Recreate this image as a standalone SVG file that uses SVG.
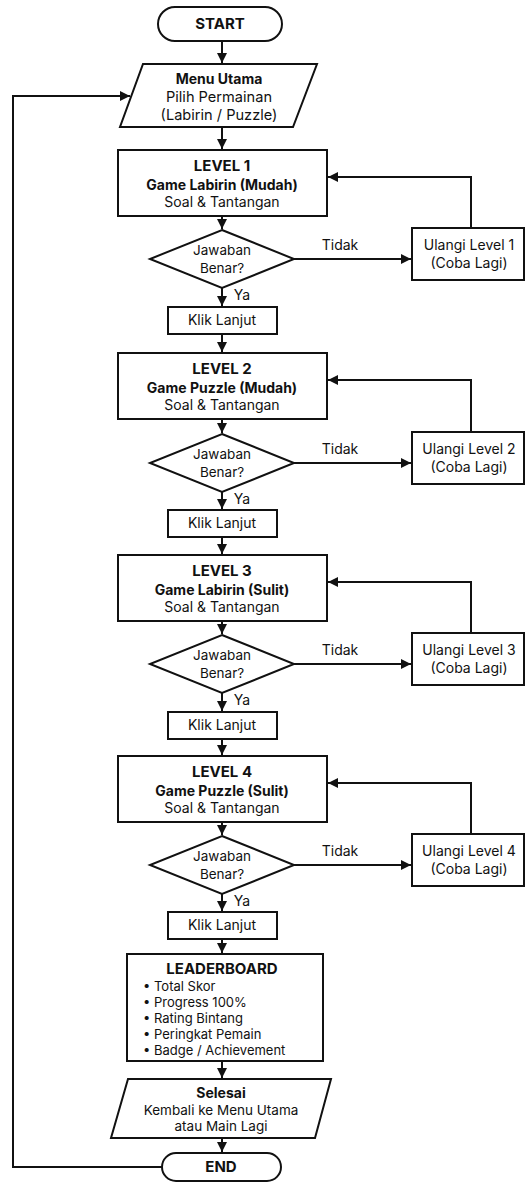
<svg xmlns="http://www.w3.org/2000/svg" width="526" height="1182" viewBox="0 0 526 1182">
<defs>
<marker id="ah" markerUnits="userSpaceOnUse" markerWidth="12" markerHeight="12" refX="10" refY="5" orient="auto">
<path d="M0,0 L10,5 L0,10 Z" fill="#111"/>
</marker>
<style>
.s{fill:#fff;stroke:#111;stroke-width:2}
.c{fill:none;stroke:#111;stroke-width:2;marker-end:url(#ah)}
.t{font-family:Inter,"Noto Sans",sans-serif;font-size:14px;fill:#111;text-anchor:middle}
.b{font-weight:bold}
.h{font-weight:bold;font-size:15px}
.d{font-size:13.5px}
.l{font-family:Inter,"Noto Sans",sans-serif;font-size:13px;fill:#111}
</style>
</defs>
<rect width="526" height="1182" fill="#fff"/>
<g id="connectors">
<path class="c" d="M222,41 V63"/>
<path class="c" d="M222,127 V149"/>
<path class="c" d="M222,216 V229"/>
<path class="c" d="M222,288 V306"/>
<path class="c" d="M222,334 V352"/>
<path class="c" d="M294,259 H411"/>
<path class="c" d="M471,228 V177 H328"/>
<path class="c" d="M222,419 V433"/>
<path class="c" d="M222,492 V509"/>
<path class="c" d="M222,537 V554"/>
<path class="c" d="M294,463 H411"/>
<path class="c" d="M471,432 V380 H328"/>
<path class="c" d="M222,621 V634"/>
<path class="c" d="M222,693 V711"/>
<path class="c" d="M222,739 V755"/>
<path class="c" d="M294,664 H411"/>
<path class="c" d="M471,633 V582 H328"/>
<path class="c" d="M222,822 V835"/>
<path class="c" d="M222,894 V911"/>
<path class="c" d="M222,939 V953"/>
<path class="c" d="M294,865 H411"/>
<path class="c" d="M471,834 V783 H328"/>
<path class="c" d="M222,1061 V1078"/>
<path class="c" d="M222,1138 V1152"/>
<path class="c" d="M162,1167 H13 V96 H130"/>
<text class="t" x="340" y="250">Tidak</text>
<text class="t" x="340" y="454">Tidak</text>
<text class="t" x="340" y="655">Tidak</text>
<text class="t" x="340" y="856">Tidak</text>
<text class="t" x="242" y="300">Ya</text>
<text class="t" x="242" y="504">Ya</text>
<text class="t" x="242" y="705">Ya</text>
<text class="t" x="242" y="906">Ya</text>
</g>
<g id="start">
<rect class="s" x="158" y="7" width="124" height="34" rx="17"/>
<text class="t h" x="220" y="29">START</text>
</g>
<g id="menu">
<polygon class="s" points="143,64 317,64 293,127 120,127"/>
<text class="t b" x="219" y="84">Menu Utama</text>
<text class="t" x="219" y="102" style="font-size:14.6px">Pilih Permainan</text>
<text class="t" x="219" y="120" style="font-size:14.6px">(Labirin / Puzzle)</text>
</g>
<g id="level1">
<rect class="s" x="118" y="150" width="209" height="66"/>
<text class="t h" x="222" y="171">LEVEL 1</text>
<text class="t b" x="222" y="190">Game Labirin (Mudah)</text>
<text class="t" x="222" y="207">Soal &amp; Tantangan</text>
</g>
<g id="dec1">
<polygon class="s" points="222,230 294,259 222,288 150,259"/>
<text class="t d" x="222" y="255">Jawaban</text>
<text class="t d" x="222" y="273">Benar?</text>
</g>
<g id="retry1">
<rect class="s" x="412" y="228" width="112" height="52"/>
<text class="t" x="469" y="250">Ulangi Level 1</text>
<text class="t" x="469" y="268">(Coba Lagi)</text>
</g>
<g id="next1">
<rect class="s" x="168" y="307" width="109" height="27"/>
<text class="t" x="222" y="325">Klik Lanjut</text>
</g>
<g id="level2">
<rect class="s" x="118" y="353" width="209" height="66"/>
<text class="t h" x="222" y="374">LEVEL 2</text>
<text class="t b" x="222" y="393">Game Puzzle (Mudah)</text>
<text class="t" x="222" y="410">Soal &amp; Tantangan</text>
</g>
<g id="dec2">
<polygon class="s" points="222,434 294,463 222,492 150,463"/>
<text class="t d" x="222" y="459">Jawaban</text>
<text class="t d" x="222" y="477">Benar?</text>
</g>
<g id="retry2">
<rect class="s" x="412" y="432" width="112" height="52"/>
<text class="t" x="469" y="454">Ulangi Level 2</text>
<text class="t" x="469" y="472">(Coba Lagi)</text>
</g>
<g id="next2">
<rect class="s" x="168" y="510" width="109" height="27"/>
<text class="t" x="222" y="528">Klik Lanjut</text>
</g>
<g id="level3">
<rect class="s" x="118" y="555" width="209" height="66"/>
<text class="t h" x="222" y="576">LEVEL 3</text>
<text class="t b" x="222" y="595">Game Labirin (Sulit)</text>
<text class="t" x="222" y="612">Soal &amp; Tantangan</text>
</g>
<g id="dec3">
<polygon class="s" points="222,635 294,664 222,693 150,664"/>
<text class="t d" x="222" y="660">Jawaban</text>
<text class="t d" x="222" y="678">Benar?</text>
</g>
<g id="retry3">
<rect class="s" x="412" y="633" width="112" height="52"/>
<text class="t" x="469" y="655">Ulangi Level 3</text>
<text class="t" x="469" y="673">(Coba Lagi)</text>
</g>
<g id="next3">
<rect class="s" x="168" y="712" width="109" height="27"/>
<text class="t" x="222" y="730">Klik Lanjut</text>
</g>
<g id="level4">
<rect class="s" x="118" y="756" width="209" height="66"/>
<text class="t h" x="222" y="777">LEVEL 4</text>
<text class="t b" x="222" y="796">Game Puzzle (Sulit)</text>
<text class="t" x="222" y="813">Soal &amp; Tantangan</text>
</g>
<g id="dec4">
<polygon class="s" points="222,836 294,865 222,894 150,865"/>
<text class="t d" x="222" y="861">Jawaban</text>
<text class="t d" x="222" y="879">Benar?</text>
</g>
<g id="retry4">
<rect class="s" x="412" y="834" width="112" height="52"/>
<text class="t" x="469" y="856">Ulangi Level 4</text>
<text class="t" x="469" y="874">(Coba Lagi)</text>
</g>
<g id="next4">
<rect class="s" x="168" y="912" width="109" height="27"/>
<text class="t" x="222" y="930">Klik Lanjut</text>
</g>
<g id="leaderboard">
<rect class="s" x="127" y="954" width="196" height="107"/>
<text class="t h" x="222" y="974">LEADERBOARD</text>
<text class="l" x="143" y="991">•  Total Skor</text>
<text class="l" x="143" y="1007">•  Progress 100%</text>
<text class="l" x="143" y="1023">•  Rating Bintang</text>
<text class="l" x="143" y="1039">•  Peringkat Pemain</text>
<text class="l" x="143" y="1055">•  Badge / Achievement</text>
</g>
<g id="finish">
<polygon class="s" points="128,1079 331,1079 315,1138 111,1138"/>
<text class="t b" x="221" y="1098">Selesai</text>
<text class="t d" x="221" y="1115">Kembali ke Menu Utama</text>
<text class="t d" x="221" y="1131">atau Main Lagi</text>
</g>
<g id="end">
<rect class="s" x="162" y="1153" width="119" height="28" rx="14"/>
<text class="t h" x="221" y="1172">END</text>
</g>
</svg>
